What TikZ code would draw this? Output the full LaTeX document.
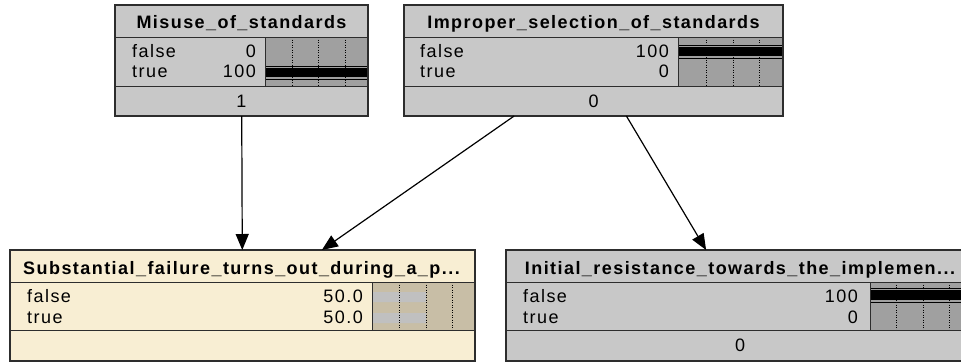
\documentclass[tikz,border=0pt]{standalone}
\usepackage{fontspec}
\newfontfamily\netfont[LetterSpace=8]{Liberation Sans}
\usetikzlibrary{arrows.meta}

\definecolor{nodegray}{RGB}{200,200,200}
\definecolor{bargray}{RGB}{160,160,160}
\definecolor{cream}{RGB}{248,238,211}
\definecolor{tanbar}{RGB}{200,190,166}
\definecolor{lightbar}{RGB}{192,192,192}
\definecolor{boxline}{RGB}{45,45,45}

\tikzset{
  netbox/.style={rectangle, inner sep=0pt, outer sep=0pt},
  titletext/.style={anchor=base, inner sep=0pt, font=\netfont\bfseries\fontsize{18}{20}\selectfont},
  statetext/.style={anchor=base west, inner sep=0pt},
  valuetext/.style={anchor=base east, inner sep=0pt},
  sepline/.style={draw=boxline, line width=0.8pt},
  tickline/.style={line width=0.8pt, dash pattern=on 1pt off 1.5pt},
  link/.style={->, line width=1.2pt, draw=black},
}

\begin{document}
\begin{tikzpicture}[x=1pt, y=-1pt, font=\netfont\fontsize{18}{20}\selectfont, >={Triangle[length=16pt,width=13pt]}]
  \useasboundingbox (0,0) rectangle (961,362);
  \clip (0,0) rectangle (961,362);

  % boxes
  \node[netbox, fill=nodegray, minimum width=253pt, minimum height=111pt] (misuse) at (241.5,60.5) {};
  \node[netbox, fill=nodegray, minimum width=379pt, minimum height=111pt] (improper) at (593.5,60.5) {};
  \node[netbox, fill=cream, minimum width=465pt, minimum height=111pt] (failure) at (242.5,305.5) {};
  \node[netbox, fill=nodegray, minimum width=466pt, minimum height=111pt] (resist) at (739,305.5) {};

  % Misuse_of_standards
  \fill[bargray] (265,37) rectangle (368,86);
  \fill[black] (265,68) rectangle (368,77);
  \draw[line width=0.8pt] (265,66) -- (368,66) (265,79) -- (368,79);
  \foreach \x in {292,318,345} \draw[tickline] (\x,37) -- (\x,86);
  \draw[sepline] (115,37) -- (368,37) (115,86) -- (368,86) (265,37) -- (265,86);
  \node[titletext] (misuse-title) at (241.5,28) {Misuse\_of\_standards};
  \node[statetext] (misuse-f) at (132,57) {false};
  \node[valuetext] (misuse-fv) at (256,57) {0};
  \node[statetext] (misuse-t) at (132,77) {true};
  \node[valuetext] (misuse-tv) at (256,77) {100};
  \node[anchor=base, inner sep=0pt] (misuse-val) at (241.5,107) {1};

  % Improper_selection_of_standards
  \fill[bargray] (678,37) rectangle (783,86);
  \fill[black] (678,47) rectangle (783,56);
  \draw[line width=0.8pt] (678,45) -- (783,45) (678,58) -- (783,58);
  \foreach \x in {706,733,759} \draw[tickline] (\x,37) -- (\x,86);
  \draw[sepline] (404,37) -- (783,37) (404,86) -- (783,86) (678,37) -- (678,86);
  \node[titletext] (improper-title) at (593.5,28) {Improper\_selection\_of\_standards};
  \node[statetext] (improper-f) at (420,57) {false};
  \node[valuetext] (improper-fv) at (669,57) {100};
  \node[statetext] (improper-t) at (420,77) {true};
  \node[valuetext] (improper-tv) at (669,77) {0};
  \node[anchor=base, inner sep=0pt] (improper-val) at (593.5,107) {0};

  % Substantial_failure
  \fill[tanbar] (372,282) rectangle (475,330);
  \fill[lightbar] (372,292) rectangle (426,302) (372,313) rectangle (426,323);
  \foreach \x in {399,426,452} \draw[tickline] (\x,282) -- (\x,330);
  \draw[sepline] (10,282) -- (475,282) (10,330) -- (475,330) (372,282) -- (372,330);
  \node[titletext] (failure-title) at (241.5,274) {Substantial\_failure\_turns\_out\_during\_a\_p...};
  \node[statetext] (failure-f) at (27,302) {false};
  \node[valuetext] (failure-fv) at (363,302) {50.0};
  \node[statetext] (failure-t) at (27,323) {true};
  \node[valuetext] (failure-tv) at (363,323) {50.0};

  % Initial_resistance
  \fill[bargray] (870,282) rectangle (972,330);
  \fill[black] (870,290) rectangle (972,300);
  \draw[line width=0.8pt] (870,288) -- (972,288) (870,302) -- (972,302);
  \foreach \x in {896,923,949} \draw[tickline] (\x,282) -- (\x,330);
  \draw[sepline] (506,282) -- (972,282) (506,330) -- (972,330) (870,282) -- (870,330);
  \node[titletext] (resist-title) at (740,274) {Initial\_resistance\_towards\_the\_implemen...};
  \node[statetext] (resist-f) at (523,302) {false};
  \node[valuetext] (resist-fv) at (858,302) {100};
  \node[statetext] (resist-t) at (523,323) {true};
  \node[valuetext] (resist-tv) at (858,323) {0};
  \node[anchor=base, inner sep=0pt] (resist-val) at (740,351) {0};

  % outlines
  \foreach \n in {misuse,improper,failure,resist}
    \draw[boxline, line width=1.3pt] (\n.north west) rectangle (\n.south east);

  % links
  \draw[link] (misuse) -- (failure);
  \draw[link] (improper) -- (failure);
  \draw[link] (improper) -- (resist);
\end{tikzpicture}
\end{document}
